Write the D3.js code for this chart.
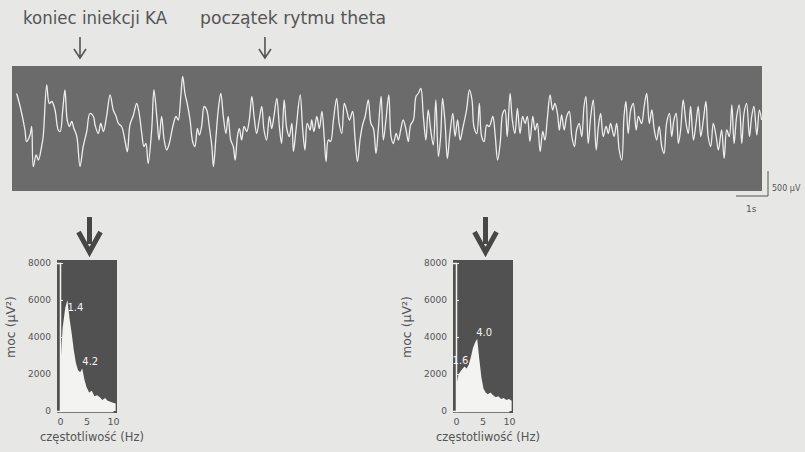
<!DOCTYPE html>
<html>
<head>
<meta charset="utf-8">
<script src="https://cdn.jsdelivr.net/npm/d3@7"></script>
<style>
  body { margin: 0; background: #e7e7e5; }
  svg { display: block; }
  text { font-family: "DejaVu Sans", sans-serif; }
</style>
</head>
<body>
<svg id="chart"></svg>
<script>
// EEG trace: time (s) and amplitude (µV), peaks and troughs
let traceTime = [0.02,0.13,0.28,0.33,0.44,0.49,0.54,0.63,0.70,0.80,0.85,0.96,1.04,1.12,1.22,1.32,1.38,1.46,1.53,1.60,
  1.67,1.74,1.81,1.90,2.00,2.10,2.21,2.31,2.42,2.47,2.57,2.65,2.73,2.83,2.94,3.04,3.13,3.20,3.30,3.41,
  3.48,3.56,3.67,3.77,3.85,3.93,4.00,4.06,4.13,4.24,4.31,4.40,4.47,4.55,4.63,4.71,4.79,4.90,5.00,5.07,
  5.15,5.21,5.28,5.35,5.44,5.52,5.59,5.67,5.73,5.80,5.88,5.96,6.04,6.12,6.17,6.25,6.32,6.40,6.48,6.56,
  6.63,6.71,6.79,6.85,6.92,6.98,7.05,7.13,7.21,7.29,7.37,7.44,7.52,7.60,7.68,7.75,7.83,7.92,7.99,8.06,
  8.15,8.23,8.30,8.38,8.46,8.54,8.62,8.67,8.75,8.88,8.96,9.03,9.10,9.19,9.24,9.31,9.40,9.48,9.56,9.63,
  9.69,9.76,9.83,9.92,10.02,10.10,10.18,10.26,10.33,10.42,10.52,10.59,10.67,10.75,10.83,10.91,11.01,11.09,11.17,11.25,
  11.32,11.41,11.48,11.56,11.65,11.72,11.79,11.88,11.95,12.02,12.10,12.19,12.26,12.33,12.42,12.50,12.57,12.65,12.73,12.81,
  12.88,12.96,13.04,13.12,13.20,13.27,13.33,13.41,13.48,13.56,13.65,13.72,13.80,13.88,13.96,14.08,14.17,14.25,14.31,14.40,
  14.48,14.55,14.63,14.71,14.79,14.90,14.97,15.05,15.13,15.21,15.28,15.35,15.44,15.51,15.59,15.67,15.75,15.83,15.91,15.98,
  16.06,16.15,16.22,16.29,16.38,16.46,16.53,16.60,16.69,16.77,16.84,16.92,16.98,17.05,17.13,17.21,17.29,17.37,17.45,17.52,
  17.60,17.68,17.75,17.81,17.88,17.96,18.04,18.13,18.20,18.27,18.35,18.44,18.51,18.58,18.69,18.77,18.85,18.93,19.00,19.06,
  19.13,19.21,19.29,19.38,19.45,19.55,19.63,19.71,19.79,19.87,19.94,20.02,20.10,20.18,20.25,20.33,20.42,20.49,20.56,20.63,
  20.70,20.77,20.85,20.94,21.01,21.08,21.17,21.25,21.32,21.40,21.48,21.56,21.63,21.71,21.79,21.88,21.95,22.05,22.13,22.21,
  22.29,22.37,22.44,22.52,22.60,22.68,22.75,22.83,22.92,22.99,23.06,23.15,23.23,23.30];
let traceUV = [530,270,-200,-430,-300,-130,-930,-700,-800,-530,-330,700,330,370,200,-200,-230,200,600,0,
  -130,-30,-170,-330,-930,-530,-230,130,70,-100,-270,-70,-230,70,500,200,70,-70,-130,-430,
  -630,-100,100,330,130,-270,-530,-470,-870,-200,600,70,-400,70,-400,-600,-470,-130,70,0,
  470,870,530,330,0,-430,-530,-170,-300,-130,270,200,-130,-530,-930,-330,200,530,70,-270,
  70,-400,-530,-800,-330,-170,-400,-130,-230,0,470,70,-270,0,270,-200,-400,70,-170,70,
  430,-130,-470,400,-170,-330,-70,-630,-200,500,-200,-600,-70,-200,0,-230,70,-170,170,-330,
  -830,-400,-430,0,430,-70,-270,330,200,0,170,-330,-830,-400,-100,70,400,-70,-170,-670,
  -200,470,-400,0,500,-330,-470,-270,-400,-200,0,-200,-430,-100,0,470,530,630,70,-400,
  200,-200,-500,400,-730,-330,430,-70,-770,-270,130,-330,0,-400,-170,200,600,400,-130,-270,
  330,-330,-430,-100,-130,70,-270,-800,-470,130,200,-330,530,0,-270,230,-270,70,-70,70,
  -430,70,-200,-70,-630,-230,-400,0,500,200,330,130,-200,100,-200,70,170,-330,-530,-200,
  -70,-330,270,470,-470,70,400,-600,-130,130,-330,-130,-270,-70,-330,-70,-600,-800,70,370,
  -270,200,330,-200,70,-70,270,530,-70,200,-170,-400,-130,-530,-670,-70,130,-330,0,130,
  -470,-200,400,-70,-270,270,-400,-70,270,-330,0,370,-330,-530,-70,-330,-600,-200,-770,-200,
  -330,300,-470,70,300,-470,130,330,-330,70,270,-300,200,0];

// power spectra: frequency (Hz) and power (µV²)
let freqA = [0,0.5,1.0,1.4,1.8,2.2,2.6,3.0,3.4,3.8,4.2,4.6,5.0,5.5,6.0,6.5,7.0,7.5,8.0,8.5,9.0,9.5,10.0,10.5];
let powerA = [2000,4500,5600,6000,5000,4200,3300,2600,2200,2100,2300,1700,1300,1000,1100,800,850,750,600,700,550,500,450,400];
let freqB = [0,0.5,1.0,1.6,2.0,2.4,2.8,3.2,3.6,4.0,4.4,4.8,5.2,5.6,6.0,6.5,7.0,7.5,8.0,8.5,9.0,9.5,10.0,10.5];
let powerB = [1300,2000,2200,2400,2300,2500,2900,3400,3700,3900,2800,1800,1200,1000,900,1000,850,750,800,650,700,600,650,550];
let peakFreqA = [1.4, 4.2];
let peakPowerA = [6000, 2300];
let peakFreqB = [1.6, 4.0];
let peakPowerB = [2400, 3900];
let powerTicks = [0, 2000, 4000, 6000, 8000];
let freqTicks = [0, 5, 10];

let width = 805;
let height = 452;
let svg = d3.select("#chart").attr("width", width).attr("height", height);

let ink = "#555";
let paper = "#f3f3f1";

// top annotations
let drawThinArrow = (x, y0, y1) => {
	svg.append("path")
		.attr("d", `M${x},${y0}V${y1}M${x - 6},${y1 - 9}L${x},${y1}L${x + 6},${y1 - 9}`)
		.attr("fill", "none").attr("stroke", ink).attr("stroke-width", 1.6);
};

svg.append("text").attr("x", 23).attr("y", 24).attr("font-size", 17).attr("fill", ink)
	.attr("textLength", 144).attr("lengthAdjust", "spacingAndGlyphs").text("koniec iniekcji KA");
svg.append("text").attr("x", 200).attr("y", 24).attr("font-size", 17).attr("fill", ink)
	.attr("textLength", 186).attr("lengthAdjust", "spacingAndGlyphs").text("początek rytmu theta");

// EEG trace
let xScale = d3.scaleLinear().domain([0, 23.3]).range([16, 761.6]);
let yScale = d3.scaleLinear().domain([-1000, 1000]).range([170, 70]);

drawThinArrow(xScale(2.0), 37, 58);
drawThinArrow(xScale(7.78), 37, 58);

svg.append("rect").attr("x", 12).attr("y", 66).attr("width", 750).attr("height", 125).attr("fill", "#6b6b6b");

let traceLine = d3.line()
	.x((d, i) => xScale(traceTime[i]))
	.y((d) => yScale(d))
	.curve(d3.curveCatmullRom.alpha(0.5));
svg.append("path").datum(traceUV).attr("d", traceLine)
	.attr("fill", "none").attr("stroke", "#eeeeee").attr("stroke-width", 1.3).attr("stroke-linejoin", "round");

// scale bar 1 s / 500 µV
let barX = 768;
let barY = 196;
let barW = xScale(1) - xScale(0);
let barH = yScale(0) - yScale(500);
svg.append("path").attr("d", `M${barX - barW},${barY}H${barX}V${barY - barH}`)
	.attr("fill", "none").attr("stroke", ink).attr("stroke-width", 1);
svg.append("text").attr("x", 772).attr("y", 191).attr("font-size", 8).attr("fill", ink).text("500 µV");
svg.append("text").attr("x", 746).attr("y", 212).attr("font-size", 9).attr("fill", ink).text("1s");

// spectra
let drawSpectrum = (x0, freq, power, peakFreq, peakPower, labelShift) => {
	let fx = d3.scaleLinear().domain([0, 10]).range([x0, x0 + 53]);
	let py = d3.scaleLinear().domain([0, 8000]).range([411, 263]);

	// big arrow
	let ax = fx(5) + 3;
	svg.append("path")
		.attr("d", `M${ax},217V244M${ax - 11},232L${ax},252L${ax + 11},232`)
		.attr("fill", "none").attr("stroke", "#474747").attr("stroke-width", 5);

	svg.append("rect").attr("x", x0 - 3).attr("y", 260).attr("width", 60).attr("height", 153).attr("fill", "#515151");

	let area = d3.area().x((d, i) => fx(freq[i])).y0(py(0)).y1((d) => py(d));
	svg.append("path").datum(power).attr("d", area).attr("fill", paper);

	// axes
	let yAxis = d3.axisLeft(py).tickValues(powerTicks).tickFormat(d3.format("d")).tickSize(3).tickPadding(6);
	let gy = svg.append("g").attr("transform", `translate(${x0},0)`).call(yAxis);
	gy.select(".domain").attr("stroke", paper).attr("stroke-width", 1.5);
	gy.selectAll(".tick line").attr("stroke", paper).attr("x2", 3);
	gy.selectAll("text").attr("font-size", 9).attr("fill", ink).attr("font-family", "DejaVu Sans");

	let xAxis = d3.axisBottom(fx).tickValues(freqTicks).tickSize(0).tickPadding(7);
	let gx = svg.append("g").attr("transform", `translate(0,${py(0)})`).call(xAxis);
	gx.select(".domain").attr("stroke", paper).attr("stroke-width", 1.5);
	gx.selectAll("text").attr("font-size", 9.5).attr("fill", ink).attr("font-family", "DejaVu Sans");

	peakFreq.forEach((f, i) => {
		svg.append("text")
			.attr("x", fx(f) + labelShift[i][0]).attr("y", py(peakPower[i]) + labelShift[i][1])
			.attr("text-anchor", "middle").attr("font-size", 10).attr("fill", paper)
			.text(d3.format(".1f")(f));
	});

	svg.append("text").attr("transform", `translate(${x0 - 45},327) rotate(-90)`)
		.attr("text-anchor", "middle").attr("font-size", 12.5).attr("fill", ink).text("moc (µV²)");
	svg.append("text").attr("x", x0 + 32).attr("y", 441)
		.attr("text-anchor", "middle").attr("font-size", 11.5).attr("fill", ink).text("częstotliwość (Hz)");
};

drawSpectrum(60, freqA, powerA, peakFreqA, peakPowerA, [[8, 11], [8, -3]]);
drawSpectrum(456, freqB, powerB, peakFreqB, peakPowerB, [[-4, -3], [7, -3]]);
</script>
</body>
</html>
